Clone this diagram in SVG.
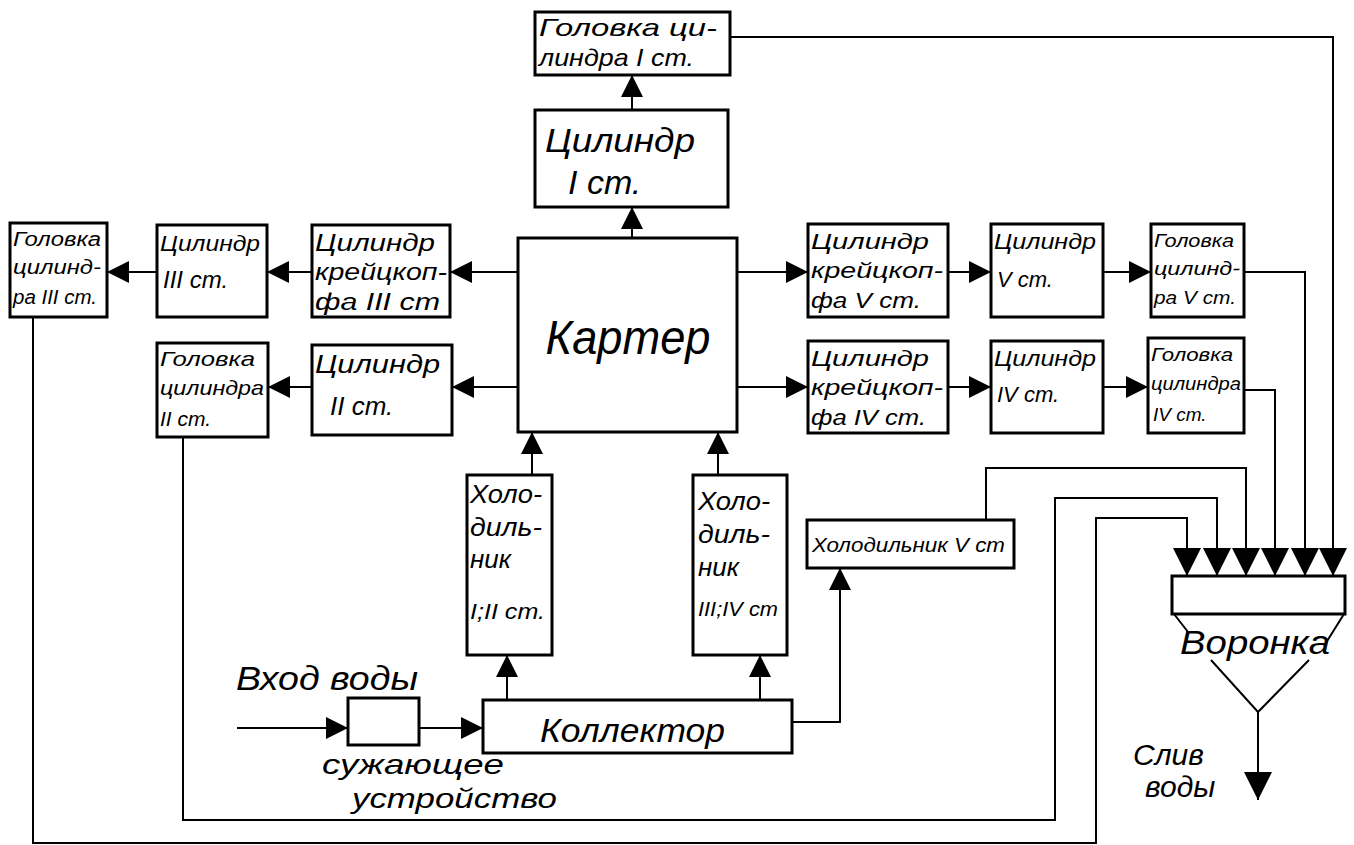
<svg xmlns="http://www.w3.org/2000/svg" width="1354" height="845" viewBox="0 0 1354 845">
<style>
.box{fill:#fff;stroke:#000;stroke-width:3}
.t{font-family:"Liberation Sans","DejaVu Sans",sans-serif;font-style:italic;fill:#000}
.c{fill:none;stroke:#000;stroke-width:2}
</style>
<defs>
<marker id="ah" viewBox="0 0 22 22" refX="22" refY="11" markerWidth="22" markerHeight="22" markerUnits="userSpaceOnUse" orient="auto"><path d="M0,0 L22,11 L0,22 Z" fill="#000"/></marker>
<marker id="af" viewBox="0 0 28 28" refX="28" refY="14" markerWidth="28" markerHeight="28" markerUnits="userSpaceOnUse" orient="auto"><path d="M0,0 L28,14 L0,28 Z" fill="#000"/></marker>
</defs>
<rect width="1354" height="845" fill="#fff"/>

<g id="connectors">
<path class="c" marker-end="url(#ah)" d="M632,238 V207"/>
<path class="c" marker-end="url(#ah)" d="M632,110 V75"/>
<path class="c" marker-end="url(#af)" d="M730,37 H1333 V576"/>
<path class="c" marker-end="url(#ah)" d="M518,272 H450"/>
<path class="c" marker-end="url(#ah)" d="M312,272 H267"/>
<path class="c" marker-end="url(#ah)" d="M157,272 H107"/>
<path class="c" marker-end="url(#ah)" d="M518,387 H452"/>
<path class="c" marker-end="url(#ah)" d="M312,387 H268"/>
<path class="c" marker-end="url(#ah)" d="M737,272 H808"/>
<path class="c" marker-end="url(#ah)" d="M948,272 H991"/>
<path class="c" marker-end="url(#ah)" d="M1103,272 H1151"/>
<path class="c" marker-end="url(#af)" d="M1244,272 H1305 V576"/>
<path class="c" marker-end="url(#ah)" d="M737,387 H808"/>
<path class="c" marker-end="url(#ah)" d="M948,387 H991"/>
<path class="c" marker-end="url(#ah)" d="M1103,387 H1148"/>
<path class="c" marker-end="url(#af)" d="M1244,390 H1275 V576"/>
<path class="c" marker-end="url(#af)" d="M986,520 V468 H1246 V576"/>
<path class="c" marker-end="url(#af)" d="M183,437 V820 H1055 V498 H1217 V576"/>
<path class="c" marker-end="url(#af)" d="M33,317 V843 H1096 V518 H1187 V576"/>
<path class="c" marker-end="url(#ah)" d="M532,475 V432"/>
<path class="c" marker-end="url(#ah)" d="M718,475 V432"/>
<path class="c" marker-end="url(#ah)" d="M507,700 V655"/>
<path class="c" marker-end="url(#ah)" d="M760,700 V655"/>
<path class="c" marker-end="url(#ah)" d="M792,722 H840 V568"/>
<path class="c" marker-end="url(#ah)" d="M237,728 H348"/>
<path class="c" marker-end="url(#ah)" d="M419,728 H483"/>
<path class="c" marker-end="url(#af)" d="M1258,712 V800"/>
</g>

<g id="headI"><rect class="box" x="535" y="12" width="195" height="63"/>
<text class="t" font-size="24" x="539" y="36" textLength="178" lengthAdjust="spacingAndGlyphs">Головка ци-</text>
<text class="t" font-size="24" x="539" y="66" textLength="155" lengthAdjust="spacingAndGlyphs">линдра I ст.</text></g>

<g id="cylI"><rect class="box" x="535" y="110" width="193" height="97"/>
<text class="t" font-size="34" x="545" y="152" textLength="150" lengthAdjust="spacingAndGlyphs">Цилиндр</text>
<text class="t" font-size="34" x="568" y="194">I ст.</text></g>

<g id="karter"><rect class="box" x="518" y="238" width="219" height="194"/>
<text class="t" font-size="48" x="628" y="354" text-anchor="middle" textLength="165" lengthAdjust="spacingAndGlyphs">Картер</text></g>

<g id="headIII"><rect class="box" x="10" y="223" width="97" height="94"/>
<text class="t" font-size="20" x="13" y="246" textLength="88" lengthAdjust="spacingAndGlyphs">Головка</text>
<text class="t" font-size="20" x="13" y="274" textLength="88" lengthAdjust="spacingAndGlyphs">цилинд-</text>
<text class="t" font-size="20" x="13" y="304" textLength="84" lengthAdjust="spacingAndGlyphs">ра III ст.</text></g>

<g id="cylIII"><rect class="box" x="157" y="225" width="110" height="92"/>
<text class="t" font-size="22" x="160" y="251" textLength="100" lengthAdjust="spacingAndGlyphs">Цилиндр</text>
<text class="t" font-size="24" x="163" y="288">III ст.</text></g>

<g id="chIII"><rect class="box" x="312" y="225" width="138" height="92"/>
<text class="t" font-size="23" x="315" y="251" textLength="120" lengthAdjust="spacingAndGlyphs">Цилиндр</text>
<text class="t" font-size="23" x="315" y="280" textLength="132" lengthAdjust="spacingAndGlyphs">крейцкоп-</text>
<text class="t" font-size="23" x="315" y="310" textLength="125" lengthAdjust="spacingAndGlyphs">фа III ст</text></g>

<g id="headII"><rect class="box" x="157" y="343" width="111" height="94"/>
<text class="t" font-size="21" x="160" y="366" textLength="95" lengthAdjust="spacingAndGlyphs">Головка</text>
<text class="t" font-size="21" x="160" y="395" textLength="104" lengthAdjust="spacingAndGlyphs">цилиндра</text>
<text class="t" font-size="21" x="160" y="426">II ст.</text></g>

<g id="cylII"><rect class="box" x="312" y="345" width="140" height="90"/>
<text class="t" font-size="26" x="315" y="373" textLength="125" lengthAdjust="spacingAndGlyphs">Цилиндр</text>
<text class="t" font-size="26" x="330" y="415">II ст.</text></g>

<g id="chV"><rect class="box" x="808" y="224" width="140" height="93"/>
<text class="t" font-size="22" x="811" y="249" textLength="118" lengthAdjust="spacingAndGlyphs">Цилиндр</text>
<text class="t" font-size="22" x="811" y="278" textLength="132" lengthAdjust="spacingAndGlyphs">крейцкоп-</text>
<text class="t" font-size="22" x="811" y="308" textLength="110" lengthAdjust="spacingAndGlyphs">фа V ст.</text></g>

<g id="cylV"><rect class="box" x="991" y="224" width="112" height="93"/>
<text class="t" font-size="22" x="994" y="249" textLength="102" lengthAdjust="spacingAndGlyphs">Цилиндр</text>
<text class="t" font-size="22" x="997" y="287">V ст.</text></g>

<g id="headV"><rect class="box" x="1151" y="224" width="93" height="93"/>
<text class="t" font-size="19" x="1154" y="247" textLength="80" lengthAdjust="spacingAndGlyphs">Головка</text>
<text class="t" font-size="19" x="1154" y="275" textLength="86" lengthAdjust="spacingAndGlyphs">цилинд-</text>
<text class="t" font-size="19" x="1154" y="304" textLength="82" lengthAdjust="spacingAndGlyphs">ра V ст.</text></g>

<g id="chIV"><rect class="box" x="808" y="341" width="140" height="92"/>
<text class="t" font-size="22" x="811" y="366" textLength="118" lengthAdjust="spacingAndGlyphs">Цилиндр</text>
<text class="t" font-size="22" x="811" y="395" textLength="132" lengthAdjust="spacingAndGlyphs">крейцкоп-</text>
<text class="t" font-size="22" x="811" y="425" textLength="115" lengthAdjust="spacingAndGlyphs">фа IV ст.</text></g>

<g id="cylIV"><rect class="box" x="991" y="341" width="112" height="92"/>
<text class="t" font-size="22" x="994" y="366" textLength="102" lengthAdjust="spacingAndGlyphs">Цилиндр</text>
<text class="t" font-size="22" x="997" y="402">IV ст.</text></g>

<g id="headIV"><rect class="box" x="1148" y="338" width="96" height="95"/>
<text class="t" font-size="19" x="1151" y="361" textLength="82" lengthAdjust="spacingAndGlyphs">Головка</text>
<text class="t" font-size="19" x="1151" y="390" textLength="90" lengthAdjust="spacingAndGlyphs">цилиндра</text>
<text class="t" font-size="19" x="1153" y="421">IV ст.</text></g>

<g id="coolI"><rect class="box" x="467" y="475" width="85" height="180"/>
<text class="t" font-size="26" x="470" y="503" textLength="72" lengthAdjust="spacingAndGlyphs">Холо-</text>
<text class="t" font-size="26" x="470" y="536" textLength="72" lengthAdjust="spacingAndGlyphs">диль-</text>
<text class="t" font-size="26" x="470" y="568">ник</text>
<text class="t" font-size="22" x="470" y="619" textLength="75" lengthAdjust="spacingAndGlyphs">I;II ст.</text></g>

<g id="coolIII"><rect class="box" x="693" y="475" width="94" height="180"/>
<text class="t" font-size="26" x="698" y="510" textLength="72" lengthAdjust="spacingAndGlyphs">Холо-</text>
<text class="t" font-size="26" x="698" y="543" textLength="72" lengthAdjust="spacingAndGlyphs">диль-</text>
<text class="t" font-size="26" x="698" y="576">ник</text>
<text class="t" font-size="20" x="698" y="616" textLength="80" lengthAdjust="spacingAndGlyphs">III;IV ст</text></g>

<g id="coolV"><rect class="box" x="807" y="520" width="207" height="48"/>
<text class="t" font-size="21" x="812" y="552" textLength="193" lengthAdjust="spacingAndGlyphs">Холодильник V ст</text></g>

<g id="device"><rect class="box" x="348" y="698" width="71" height="47"/></g>

<g id="collector"><rect class="box" x="483" y="700" width="309" height="53"/>
<text class="t" font-size="34" x="540" y="742" textLength="185" lengthAdjust="spacingAndGlyphs">Коллектор</text></g>

<g id="inletLabels">
<text class="t" font-size="34" x="236" y="690" textLength="182" lengthAdjust="spacingAndGlyphs">Вход воды</text>
<text class="t" font-size="28" x="322" y="774" textLength="182" lengthAdjust="spacingAndGlyphs">сужающее</text>
<text class="t" font-size="28" x="352" y="808" textLength="205" lengthAdjust="spacingAndGlyphs">устройство</text>
</g>

<g id="funnel"><rect class="box" x="1172" y="576" width="173" height="38"/>
<path class="c" stroke-width="3" d="M1174,614 L1188,632 M1344,614 L1324,646 M1211,660 L1258,712 L1309,660"/>
<text class="t" font-size="34" x="1180" y="654" textLength="150" lengthAdjust="spacingAndGlyphs">Воронка</text></g>

<g id="drainLabel">
<text class="t" font-size="30" x="1133" y="765">Слив</text>
<text class="t" font-size="30" x="1145" y="797">воды</text>
</g>
</svg>
